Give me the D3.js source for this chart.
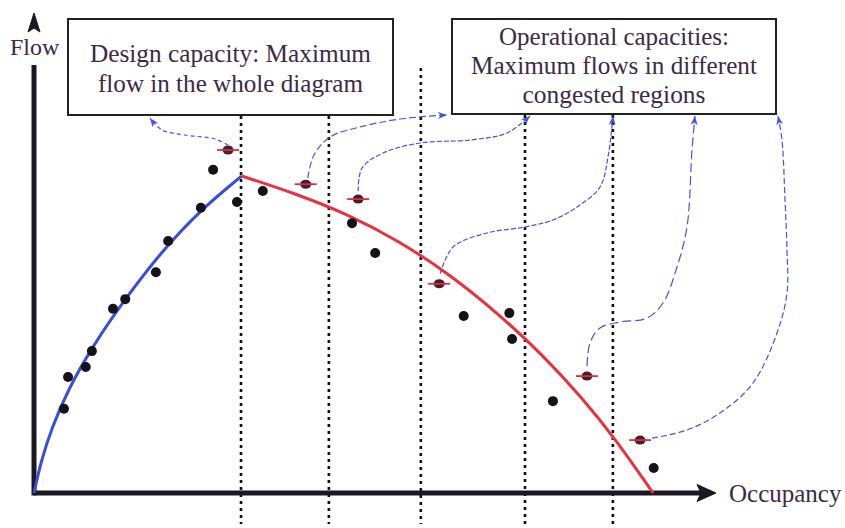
<!DOCTYPE html>
<html>
<head>
<meta charset="utf-8">
<script src="https://cdn.jsdelivr.net/npm/d3@7"></script>
<style>
	html, body { margin:0; padding:0; background:#fff; }
	svg { display:block; }
	text { font-family: "Liberation Serif", "DejaVu Serif", serif; fill:#3d2a45; }
</style>
</head>
<body>
<svg id="chart" width="845" height="528"></svg>
<script>
// observed (occupancy, flow) points, both in % of axis length
const obsOcc  = [4.4, 5.0, 7.6, 8.5, 11.6, 13.4, 17.9, 19.7, 24.5, 26.3, 29.8, 33.6, 46.7, 50.1, 63.1, 69.8, 70.2, 76.2, 91.0]
const obsFlow = [17.5, 24.1, 26.2, 29.5, 38.3, 40.3, 45.9, 52.4, 59.3, 67.2, 60.5, 62.8, 56.1, 49.9, 36.8, 37.4, 32.0, 19.1, 5.2]

// max flow of each region (first = design capacity)
const capOcc  = [28.5, 39.9, 47.6, 59.5, 81.2, 89.0]
const capFlow = [71.3, 64.2, 61.1, 43.5, 24.3, 11.0]

// fitted branches
const freeOcc  = [0, 1.0, 2.6, 5.0, 8.6, 13.2, 18.6, 24.4, 30.5]
const freeFlow = [0, 6.5, 13.5, 21.5, 30.5, 40.0, 50.0, 58.8, 65.9]
const congOcc  = [30.5, 38.5, 46.0, 53.5, 61.0, 68.0, 74.5, 80.5, 85.5, 90.9]
const congFlow = [65.9, 62.2, 58.0, 52.5, 45.5, 37.5, 29.0, 19.8, 11.0, 0]

// region boundaries on occupancy axis
const regionBounds = [30.4, 43.3, 56.8, 72.1, 85.0]

const boxTexts = [
	["Design capacity: Maximum", "flow in the whole diagram"],
	["Operational capacities:", "Maximum flows in different", "congested regions"]
]

const svg = d3.select("#chart")
const ink = "#1c1722"
const blue = "#4656dc"

const x = d3.scaleLinear().domain([0, 100]).range([34, 715])
const y = d3.scaleLinear().domain([0, 100]).range([493, 12])

// boxes (layout)
const boxes = [
	{x:68, y:19, w:325, h:96, base:62, lh:30, tl:[281, 265]},
	{x:452, y:19, w:324, h:95, base:45, lh:29, tl:[230, 286, 183]}
]

// arrow marker
svg.append("defs").append("marker")
	.attr("id", "ah")
	.attr("markerUnits", "userSpaceOnUse")
	.attr("markerWidth", 10).attr("markerHeight", 8)
	.attr("refX", 9).attr("refY", 4)
	.attr("orient", "auto")
	.append("path")
	.attr("d", "M0,0.5 L9,4 L0,7.5 L2.5,4 Z")
	.attr("fill", blue)

// region boundaries
regionBounds.forEach(b => {
	const px = x(b)
	const under = boxes.find(bx => px >= bx.x && px <= bx.x + bx.w)
	svg.append("line")
		.attr("x1", px).attr("x2", px)
		.attr("y1", under ? under.y + under.h + 1 : 68)
		.attr("y2", 524)
		.attr("stroke", "#111")
		.attr("stroke-width", 2.6)
		.attr("stroke-dasharray", "3,4")
})

// axes
svg.append("line")
	.attr("x1", x(0)).attr("x2", 703)
	.attr("y1", y(0)).attr("y2", y(0))
	.attr("stroke", ink).attr("stroke-width", 5)
svg.append("path")
	.attr("d", "M716,493 L697,484.5 L701,493 L697,501.5 Z")
	.attr("fill", ink).attr("stroke", ink).attr("stroke-width", 1)
svg.append("line")
	.attr("x1", x(0)).attr("x2", x(0))
	.attr("y1", y(0) + 2.5).attr("y2", 65)
	.attr("stroke", ink).attr("stroke-width", 5)
svg.append("path")
	.attr("d", "M34,13 L28,32 L34,28 L40,32 Z")
	.attr("fill", ink).attr("stroke", ink).attr("stroke-width", 1)

svg.append("text").attr("x", 10).attr("y", 55)
	.attr("font-size", 24).text("Flow")
svg.append("text").attr("x", 729).attr("y", 502)
	.attr("font-size", 25).text("Occupancy")

// fitted branches
const line = d3.line().x(d => x(d[0])).y(d => y(d[1])).curve(d3.curveBasis)
svg.append("path")
	.datum(d3.zip(freeOcc, freeFlow))
	.attr("d", line)
	.attr("fill", "none").attr("stroke", "#3a4ed8").attr("stroke-width", 3)
svg.append("path")
	.datum(d3.zip(congOcc, congFlow))
	.attr("d", line)
	.attr("fill", "none").attr("stroke", "#e8323f").attr("stroke-width", 3)

// observed points
svg.append("g").selectAll("circle")
	.data(d3.zip(obsOcc, obsFlow))
	.join("circle")
	.attr("cx", d => x(d[0])).attr("cy", d => y(d[1]))
	.attr("r", 5).attr("fill", "#15121a")

// leader lines from capacity points to the boxes (waypoints are layout)
const leaders = [
	{dash:"4,3", pts:[[215,139],[185,135],[162,130],[150,118]], from:[0,-5]},
	{dash:"7,3", pts:[[314,155],[330,137],[360,127],[400,119],[447,115]], from:[2,-6]},
	{dash:"5,2", pts:[[362,168],[383,153],[420,143],[470,140],[507,133],[530,116]], from:[0,-8]},
	{dash:"5,2", pts:[[453,247],[487,233],[525,227],[553,220],[577,207],[600,187],[608,157],[613,116]], from:[1,-10]},
	{dash:"9,4", pts:[[590,343],[600,328],[620,322],[647,318],[663,303],[677,267],[687,227],[692,150],[695,116]], from:[0,-10]},
	{dash:"6,3", pts:[[687,430],[720,413],[753,383],[777,333],[787,293],[787,250],[785,200],[782,140],[778,116]], from:[12,-2]}
]
const leaderLine = d3.line().curve(d3.curveCatmullRom)
leaders.forEach((l, i) => {
	const start = [x(capOcc[i]) + l.from[0], y(capFlow[i]) + l.from[1]]
	svg.append("path")
		.attr("d", leaderLine([start].concat(l.pts)))
		.attr("fill", "none")
		.attr("stroke", blue)
		.attr("stroke-width", 1.2)
		.attr("stroke-dasharray", l.dash)
		.attr("marker-end", "url(#ah)")
})

// capacity points
const cap = svg.append("g").selectAll("g")
	.data(d3.zip(capOcc, capFlow))
	.join("g")
	.attr("transform", d => "translate(" + x(d[0]) + "," + y(d[1]) + ")")
cap.append("ellipse").attr("rx", 5.5).attr("ry", 4.5).attr("fill", "#4a1c2c")
cap.append("line").attr("x1", -11).attr("x2", 11)
	.attr("stroke", "#d8303e").attr("stroke-width", 1.8)

// text boxes
boxes.forEach((b, i) => {
	svg.append("rect")
		.attr("x", b.x).attr("y", b.y).attr("width", b.w).attr("height", b.h)
		.attr("fill", "#fff").attr("stroke", "#222").attr("stroke-width", 2)
	boxTexts[i].forEach((t, j) => {
		svg.append("text")
			.attr("x", b.x + b.w / 2)
			.attr("y", b.y + b.base - b.y + j * b.lh)
			.attr("text-anchor", "middle")
			.attr("font-size", 25)
			.attr("textLength", b.tl[j])
			.attr("lengthAdjust", "spacingAndGlyphs")
			.text(t)
	})
})
</script>
</body>
</html>
